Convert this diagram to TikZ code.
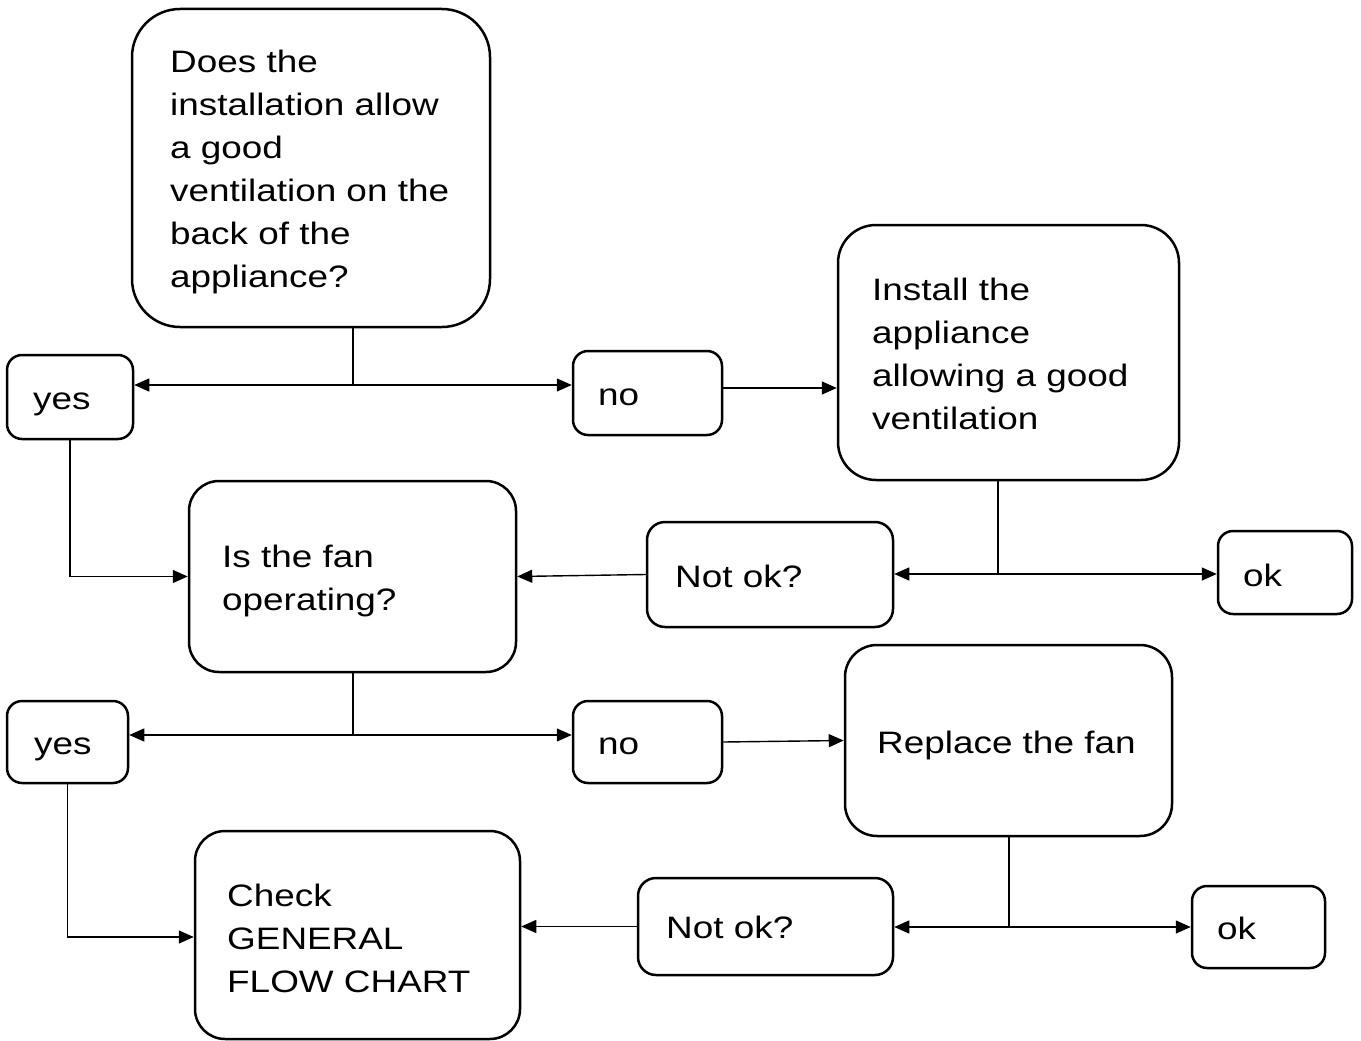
\documentclass[tikz,border=0pt]{standalone}
\usepackage{fontspec}
\setmainfont{Liberation Sans}[FakeStretch=1.19]
\usetikzlibrary{arrows.meta}
\begin{document}
\begin{tikzpicture}[x=1pt,y=-1pt,
  box/.style={draw=black, line width=2.5pt, rectangle, inner sep=0pt},
  lbl/.style={anchor=base west, inner sep=0pt, font=\fontsize{31pt}{43pt}\selectfont},
  conn/.style={line width=1.4pt, draw=black},
  arr/.style={conn, -{Triangle[length=15pt,width=13pt]}}]
\useasboundingbox (0,0) rectangle (1361,1041);
\fill[white] (0,0) rectangle (1361,1041);
% boxes
\node[box, minimum width=358pt, minimum height=318pt, rounded corners=48pt] (b1) at (311,168) {};
\node[box, minimum width=126pt, minimum height=84pt, rounded corners=15pt] (yes1) at (70,397) {};
\node[box, minimum width=149pt, minimum height=84pt, rounded corners=15pt] (no1) at (647.5,393) {};
\node[box, minimum width=341pt, minimum height=255pt, rounded corners=38pt] (inst) at (1008.5,352.5) {};
\node[box, minimum width=327pt, minimum height=191pt, rounded corners=30pt] (fan) at (352.5,576.5) {};
\node[box, minimum width=246pt, minimum height=105pt, rounded corners=18pt] (nok1) at (770,574.5) {};
\node[box, minimum width=134pt, minimum height=83pt, rounded corners=15pt] (ok1) at (1285,572.5) {};
\node[box, minimum width=121pt, minimum height=82pt, rounded corners=15pt] (yes2) at (67.5,742) {};
\node[box, minimum width=149pt, minimum height=82pt, rounded corners=15pt] (no2) at (647.5,742) {};
\node[box, minimum width=327pt, minimum height=191pt, rounded corners=32pt] (rep) at (1008.5,740.5) {};
\node[box, minimum width=325pt, minimum height=208pt, rounded corners=30pt] (chk) at (357.5,935) {};
\node[box, minimum width=255pt, minimum height=97pt, rounded corners=18pt] (nok2) at (765.5,926.5) {};
\node[box, minimum width=133pt, minimum height=82pt, rounded corners=15pt] (ok2) at (1258.5,927) {};
% texts
\node[lbl] (tb1) at (170,73) {\begin{tabular}[t]{@{}l@{}}Does the\\installation allow\\a good\\ventilation on the\\back of the\\appliance?\end{tabular}};
\node[lbl] (tyes1) at (33,409) {yes};
\node[lbl] (tno1) at (598,405) {no};
\node[lbl] (tinst) at (872,300) {\begin{tabular}[t]{@{}l@{}}Install the\\appliance\\allowing a good\\ventilation\end{tabular}};
\node[lbl] (tfan) at (222,567) {\begin{tabular}[t]{@{}l@{}}Is the fan\\operating?\end{tabular}};
\node[lbl] (tnok1) at (675,587) {Not ok?};
\node[lbl] (tok1) at (1243,586) {ok};
\node[lbl] (tyes2) at (34,754) {yes};
\node[lbl] (tno2) at (598,754) {no};
\node[lbl] (trep) at (877,753) {Replace the fan};
\node[lbl] (tchk) at (227,906) {\begin{tabular}[t]{@{}l@{}}Check\\GENERAL\\FLOW CHART\end{tabular}};
\node[lbl] (tnok2) at (666,938) {Not ok?};
\node[lbl] (tok2) at (1217,939) {ok};
% connectors
\coordinate (j1) at (353,385);
\draw[conn] (b1.south -| j1) -- (j1);
\draw[arr] (j1) -- (j1 -| yes1.east);
\draw[arr] (j1) -- (j1 -| no1.west);
\coordinate (a2) at (722,388);
\draw[arr] (a2) -- (a2 -| inst.west);
\draw[arr] (yes1.south) |- (fan.west);
\coordinate (j2) at (998,574);
\draw[conn] (inst.south -| j2) -- (j2);
\draw[arr] (j2) -- (j2 -| nok1.east);
\draw[arr] (j2) -- (j2 -| ok1.west);
\draw[arr] (nok1.west) -- (fan.east);
\coordinate (j3) at (353,735);
\draw[conn] (fan.south -| j3) -- (j3);
\draw[arr] (j3) -- (j3 -| yes2.east);
\draw[arr] (j3) -- (j3 -| no2.west);
\draw[arr] (no2.east) -- (rep.west);
\coordinate (a8) at (0,937);
\draw[arr] (yes2.south) |- (a8 -| chk.west);
\coordinate (j4) at (1009,927);
\draw[conn] (rep.south -| j4) -- (j4);
\draw[arr] (j4) -- (j4 -| nok2.east);
\draw[arr] (j4) -- (j4 -| ok2.west);
\draw[arr] (nok2.west) -- (nok2.west -| chk.east);
\end{tikzpicture}
\end{document}
